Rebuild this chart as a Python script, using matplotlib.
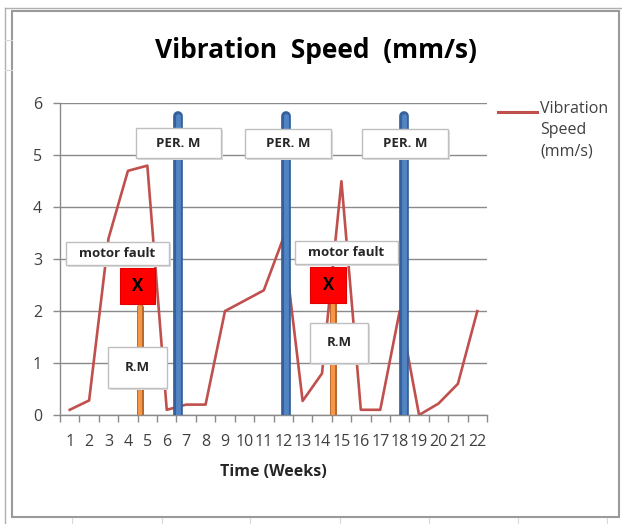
import matplotlib
matplotlib.use("Agg")
import matplotlib.pyplot as plt
from matplotlib.patches import Rectangle
from matplotlib.lines import Line2D

# dados
semanas = list(range(1, 23))
velocidade = [0.1, 0.28, 3.4, 4.7, 4.8, 0.1, 0.2, 0.2, 2.0, 2.2, 2.4, 3.4,
              0.27, 0.8, 4.5, 0.1, 0.1, 2.0, 0.0, 0.22, 0.6, 2.0]

# manutencao periodica (barras azuis) e reparo (barras laranja)
per_m_pos = [6.6, 12.15, 18.23]
per_m_alt = [5.75, 5.75, 5.75]
rm_pos = [4.62, 14.59]
rm_alt = [2.08, 2.15]

# caixas de texto: (texto, x0, x1, y0, y1)
caixas_per = [("PER. M", 4.42, 8.8, 4.95, 5.52),
              ("PER. M", 10.04, 14.47, 4.95, 5.5),
              ("PER. M", 16.08, 20.5, 4.95, 5.5)]
caixas_falha = [("motor fault", 0.81, 6.12, 2.88, 3.33),
                ("motor fault", 12.6, 17.9, 2.9, 3.35)]
caixas_rm = [("R.M", 2.99, 6.0, 0.52, 1.3),
             ("R.M", 13.39, 16.39, 1.0, 1.78)]
caixas_x = [(3.6, 5.4, 2.13, 2.83),
            (13.4, 15.25, 2.15, 2.85)]

plt.rcParams['font.family'] = ['Open Sans', 'DejaVu Sans']

fig = plt.figure(figsize=(6.22, 5.24), dpi=100)
W, H = 622, 524

# moldura do grafico e linhas da planilha
fig.add_artist(Rectangle((12 / W, 1 - 517 / H), 607 / W, 506 / H, transform=fig.transFigure,
                         fill=False, edgecolor="#9a9a9a", linewidth=1.5))
fig.add_artist(Line2D([5 / W, 1], [1 - 8 / H, 1 - 8 / H], transform=fig.transFigure,
                      color="#b0b0b0", linewidth=1))
fig.add_artist(Line2D([5 / W, 5 / W], [0, 1 - 8 / H], transform=fig.transFigure,
                      color="#b0b0b0", linewidth=1))
for xp in [72, 162, 250, 340, 429, 518, 607]:
    fig.add_artist(Line2D([xp / W, xp / W], [0, 1 - 518 / H], transform=fig.transFigure,
                          color="#d8d8d8", linewidth=0.8))
for yp in [40, 70]:
    fig.add_artist(Line2D([5 / W, 12 / W], [1 - yp / H, 1 - yp / H], transform=fig.transFigure,
                          color="#d8d8d8", linewidth=0.8))

ax = fig.add_axes([60 / W, 1 - 415 / H, 427 / W, 311.7 / H])
ax.set_xlim(0.5, 22.5)
ax.set_ylim(0, 6)

cor_linha = "#C0504D"
ax.plot(semanas, velocidade, color=cor_linha, linewidth=1.9, zorder=2)

# barras de reparo
ax.vlines(rm_pos, 0, rm_alt, color="#B5662A", linewidth=5, capstyle="round", zorder=3)
ax.vlines(rm_pos, 0, rm_alt, color="#F79646", linewidth=3, capstyle="round", zorder=3)

# barras de manutencao periodica
ax.vlines(per_m_pos, 0, per_m_alt, color="#35609a", linewidth=7, capstyle="round", zorder=3.5)
ax.vlines(per_m_pos, 0, per_m_alt, color="#5284C4", linewidth=3.5, capstyle="round", zorder=3.5)


def caixa(txt, x0, x1, y0, y1, tam=9.5):
    ax.add_patch(Rectangle((x0 + 0.08, y0 - 0.04), x1 - x0, y1 - y0, facecolor="#dcdcdc",
                           edgecolor="none", zorder=3.9))
    ax.add_patch(Rectangle((x0, y0), x1 - x0, y1 - y0, facecolor="white",
                           edgecolor="#bfbfbf", linewidth=1, zorder=4))
    ax.text((x0 + x1) / 2, (y0 + y1) / 2, txt, ha="center", va="center",
            fontsize=tam, fontweight="bold", color="#262626", zorder=4.1)


for c in caixas_per + caixas_falha + caixas_rm:
    caixa(*c)

for x0, x1, y0, y1 in caixas_x:
    ax.add_patch(Rectangle((x0, y0), x1 - x0, y1 - y0, facecolor="#FF0000",
                           edgecolor="#e00000", linewidth=0.8, zorder=4))
    ax.text((x0 + x1) / 2, (y0 + y1) / 2, "X", ha="center", va="center",
            fontsize=12, fontweight="bold", color="black", zorder=4.1)

# eixos
ax.set_yticks(range(0, 7))
ax.yaxis.grid(True, color="#8a8a8a", linewidth=1)
ax.set_axisbelow(True)
ax.set_xticks(semanas)
ax.set_xticklabels([str(s) for s in semanas])
ax.set_xticks([s + 0.5 for s in range(0, 23)], minor=True)
ax.tick_params(axis="x", which="major", length=0, pad=14, labelsize=11.5, colors="#404040")
ax.tick_params(axis="x", which="minor", length=5, color="#8a8a8a", width=1)
ax.tick_params(axis="y", length=5, color="#8a8a8a", width=1, labelsize=11.5, colors="#404040", pad=8)
for lado in ["top", "right"]:
    ax.spines[lado].set_visible(False)
for lado in ["left", "bottom"]:
    ax.spines[lado].set_color("#8a8a8a")
    ax.spines[lado].set_linewidth(1)

ax.set_xlabel("Time (Weeks)", fontsize=11.5, fontweight="bold", color="#262626", labelpad=10)
fig.text(316 / W, 1 - 50 / H, "Vibration  Speed  (mm/s)", ha="center", va="center",
         fontsize=19, fontweight="bold", color="black")

# legenda
fig.add_artist(Line2D([498 / W, 537 / W], [1 - 112 / H, 1 - 112 / H], transform=fig.transFigure,
                      color=cor_linha, linewidth=2.2))
fig.text(540 / W, 1 - 101 / H, "Vibration\nSpeed\n(mm/s)", ha="left", va="top",
         fontsize=11.5, color="#404040", linespacing=1.45)

fig.savefig("out.png", dpi=100)
